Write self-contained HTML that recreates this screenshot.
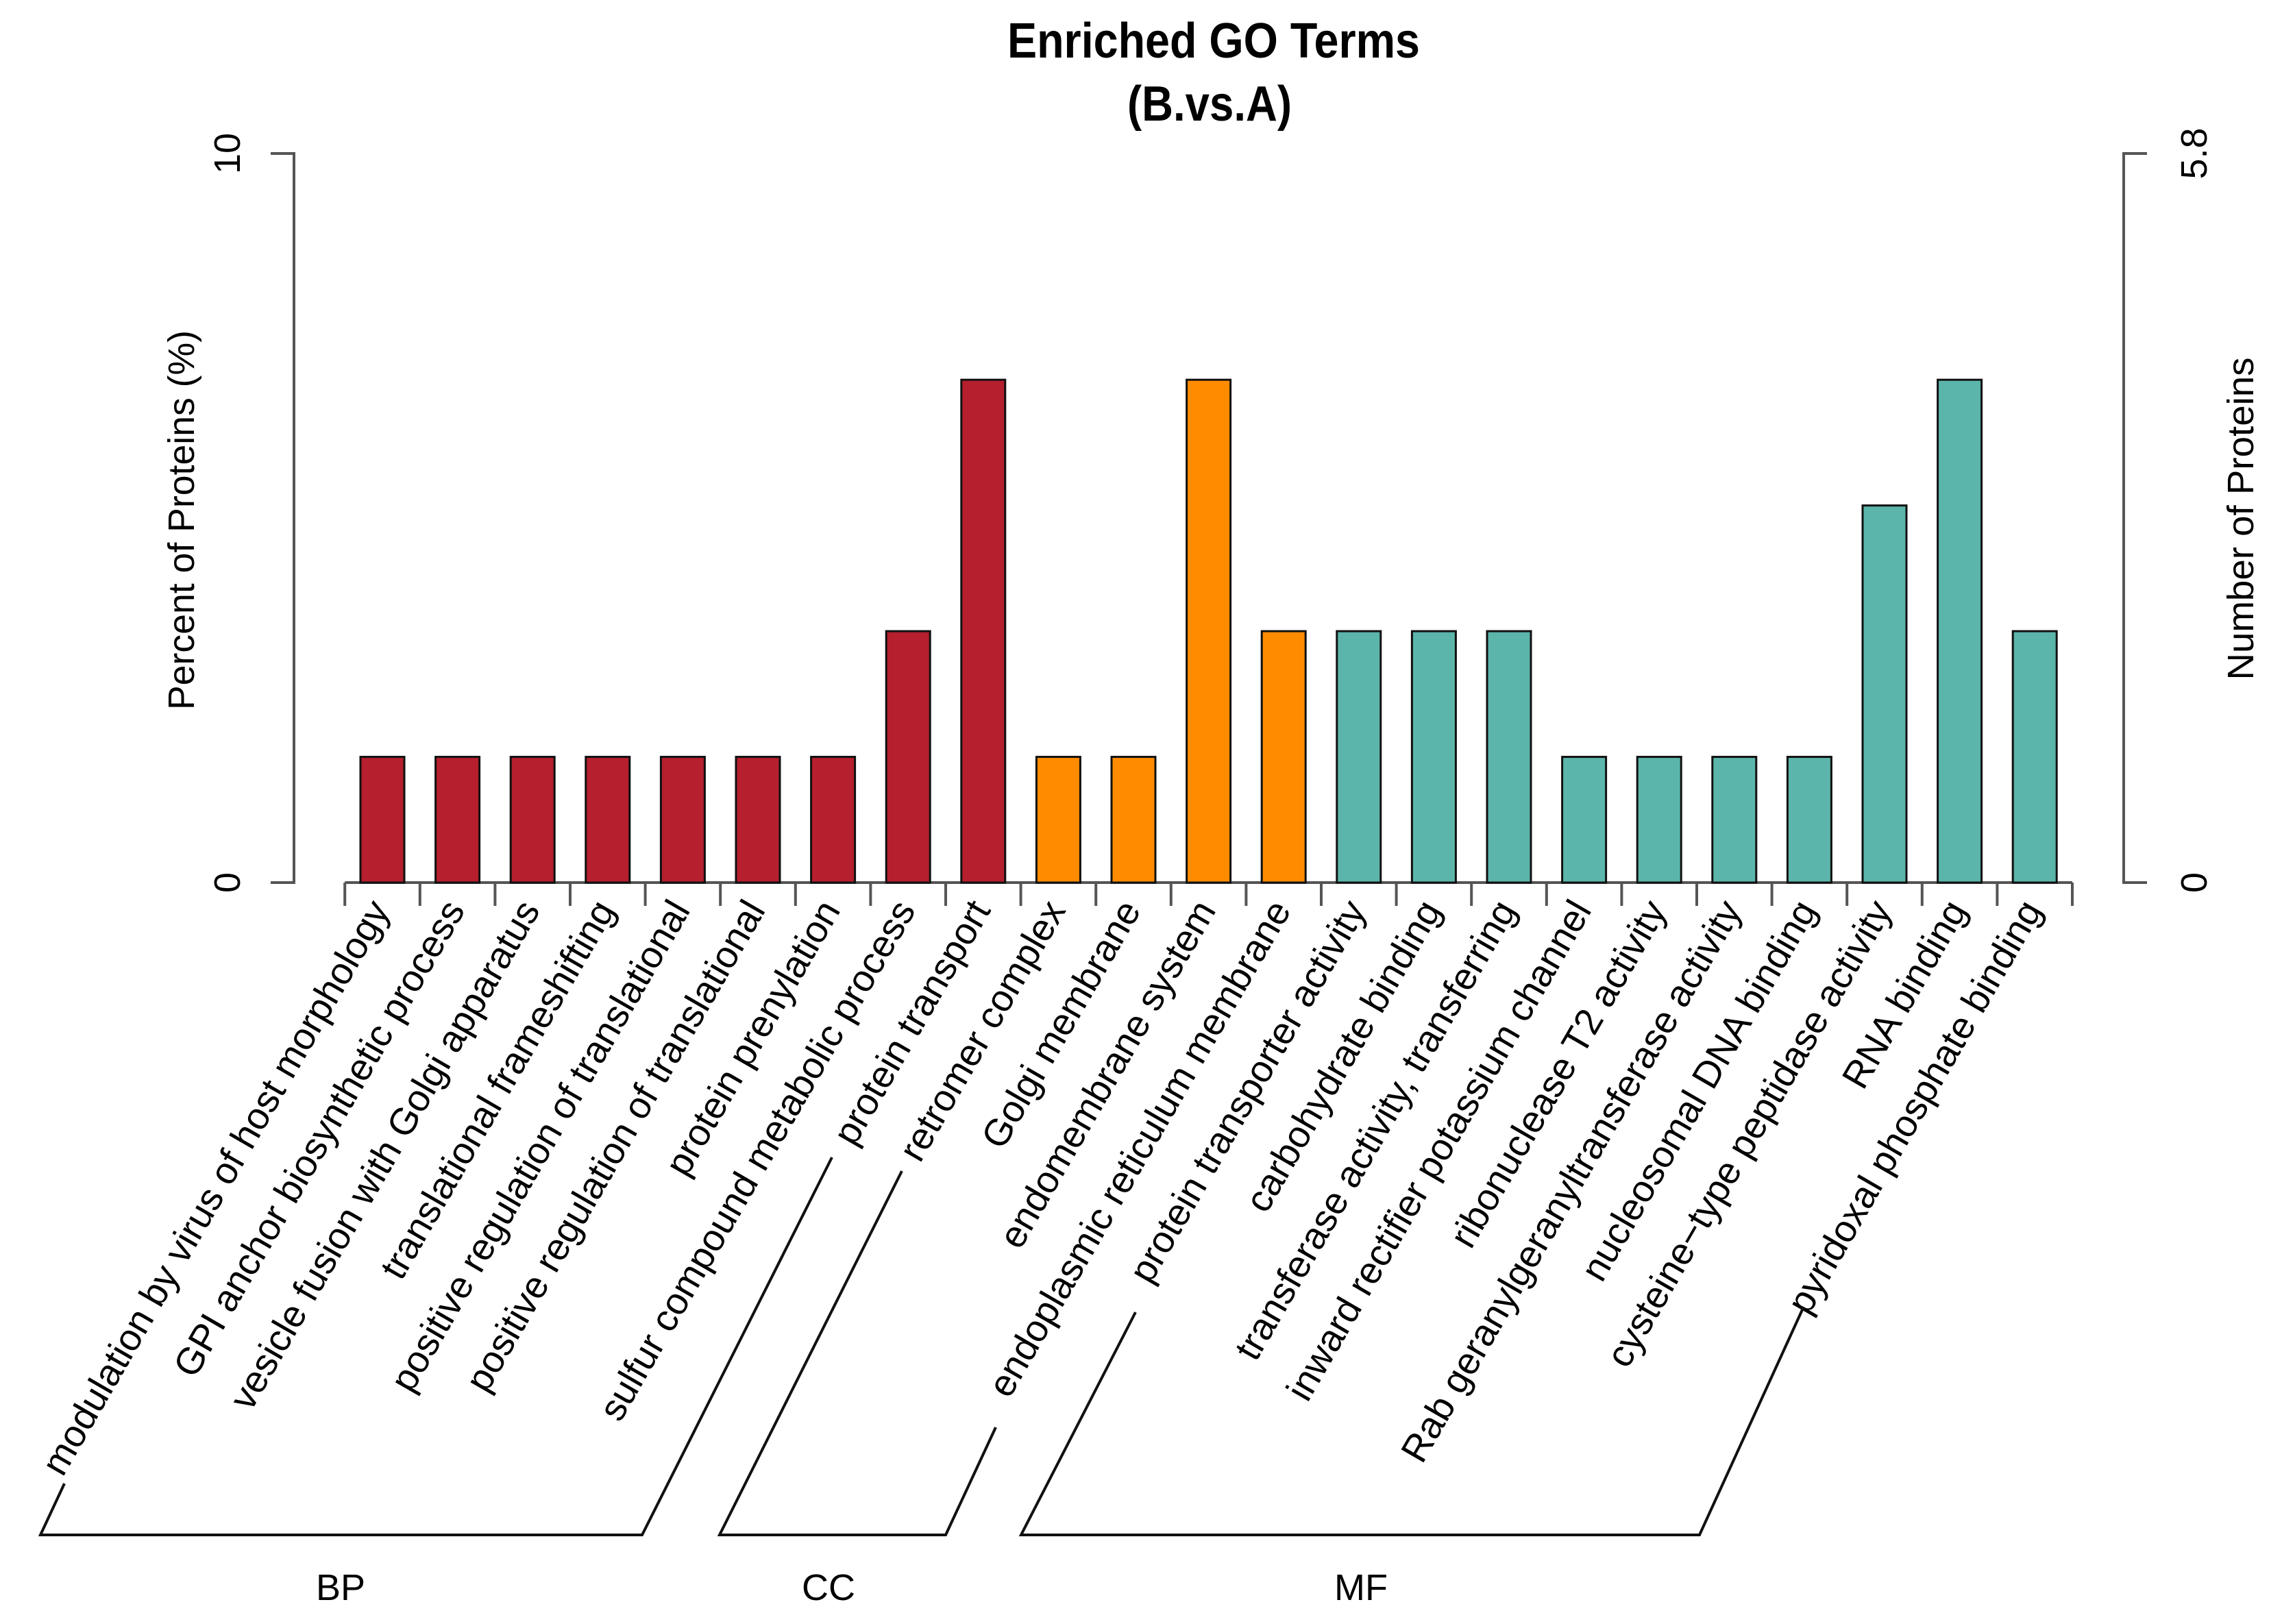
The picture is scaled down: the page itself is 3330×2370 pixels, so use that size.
<!DOCTYPE html>
<html><head><meta charset="utf-8"><style>
html,body{margin:0;padding:0;background:#fff;}
svg{display:block;font-family:"Liberation Sans",Arial,sans-serif;}
</style></head><body>
<svg id="chart" width="3330" height="2370" viewBox="0 0 3330 2370" xmlns="http://www.w3.org/2000/svg">
<text x="1771" y="84" font-size="72" font-weight="bold" text-anchor="middle" textLength="602" lengthAdjust="spacingAndGlyphs">Enriched GO Terms</text>
<text x="1765" y="176" font-size="72" font-weight="bold" text-anchor="middle" textLength="240" lengthAdjust="spacingAndGlyphs">(B.vs.A)</text>
<g id="axes"></g>
<g id="bars"></g>
<g id="labels"></g>
<g id="groups"></g>
</svg>
<script>
const categories = ["modulation by virus of host morphology","GPI anchor biosynthetic process","vesicle fusion with Golgi apparatus","translational frameshifting","positive regulation of translational","positive regulation of translational","protein prenylation","sulfur compound metabolic process","protein transport","retromer complex","Golgi membrane","endomembrane system","endoplasmic reticulum membrane","protein transporter activity","carbohydrate binding","transferase activity, transferring","inward rectifier potassium channel","ribonuclease T2 activity","Rab geranylgeranyltransferase activity","nucleosomal DNA binding","cysteine\u2212type peptidase activity","RNA binding","pyridoxal phosphate binding"];
const counts = [1,1,1,1,1,1,1,2,4,1,1,4,2,2,2,2,1,1,1,1,3,4,2];
const groupsOf = ["BP","BP","BP","BP","BP","BP","BP","BP","BP","CC","CC","CC","CC","MF","MF","MF","MF","MF","MF","MF","MF","MF","MF"];
const groupNames = ["BP","CC","MF"];
const leftTicks = ["0","10"];
const rightTicks = ["0","5.8"];
const totalProteins = 58;
const leftMax = 10;

const NS = "http://www.w3.org/2000/svg";
const colors = {BP:"#B51F2E", CC:"#FF8B00", MF:"#5BB5AA"};
const y0 = 1288, yTop = 224;
const firstCenter = 558, pitch = 109.6, barW = 64;
function xPos(i){ return firstCenter + i*pitch; }
function yPos(pct){ return y0 - (y0 - yTop) * pct / leftMax; }
function mk(tag, attrs, parent){ const e=document.createElementNS(NS,tag); for(const k in attrs) e.setAttribute(k,attrs[k]); parent.appendChild(e); return e; }

const axes = document.getElementById('axes');
const bars = document.getElementById('bars');
const labels = document.getElementById('labels');
const groups = document.getElementById('groups');

let la = mk('path',{d:`M395 ${yTop} H429 V${y0} H395`,fill:'none',stroke:'#555','stroke-width':4},axes);


leftTicks.forEach((t,k)=>{
  const v = k===0?0:leftMax;
  const yy = yPos(v);
  const tx = mk('text',{x:350,y:yy,'font-size':54,'text-anchor':'middle',transform:`rotate(-90 350 ${yy})`},axes);
  tx.textContent = t;
  
  
});
let lt = mk('text',{x:283,y:759,'font-size':54,'text-anchor':'middle',transform:'rotate(-90 283 759)',textLength:554,lengthAdjust:'spacingAndGlyphs'},axes);
lt.textContent = 'Percent of Proteins (%)';



let ra = mk('path',{d:`M3133 ${yTop} H3099 V${y0} H3133`,fill:'none',stroke:'#555','stroke-width':4},axes);


rightTicks.forEach((t,k)=>{
  const yy = k===0?y0:yTop;
  const tx = mk('text',{x:3220,y:yy,'font-size':54,'text-anchor':'middle',transform:`rotate(-90 3220 ${yy})`},axes);
  tx.textContent = t;
  
  
});
let rt = mk('text',{x:3288,y:757,'font-size':54,'text-anchor':'middle',transform:'rotate(-90 3288 757)',textLength:471,lengthAdjust:'spacingAndGlyphs'},axes);
rt.textContent = 'Number of Proteins';



const n = categories.length;
const xl = xPos(0)-pitch/2, xr = xPos(n-1)+pitch/2;
let xa = mk('line',{x1:xl,y1:y0,x2:xr,y2:y0,stroke:'#555','stroke-width':4},axes);


for(let i=0;i<=n;i++){
  const tx = xl + i*pitch;
  const tk = mk('line',{x1:tx,y1:y0,x2:tx,y2:y0+34,stroke:'#555','stroke-width':4},axes);
  
  
}

categories.forEach((c,i)=>{
  const pct = counts[i]/totalProteins*100;
  const yy = yPos(pct);
  const r = mk('rect',{x:xPos(i)-barW/2,y:yy,width:barW,height:y0-yy,fill:colors[groupsOf[i]],stroke:'#111','stroke-width':3},bars);
  
  
  const lx = xPos(i)+12, ly = 1328;
  const t = mk('text',{x:lx,y:ly,'font-size':55,'text-anchor':'end',transform:`rotate(-60 ${lx} ${ly})`},labels);
  t.textContent = c;
  
  
});

const brackets = {
  BP:{d:'M94 2165 L59 2240 H937 L1214 1689', lx:497},
  CC:{d:'M1316 1709 L1050 2240 H1380 L1453 2083', lx:1209},
  MF:{d:'M1657 1915 L1490 2240 H2480 L2632 1907', lx:1986}
};
groupNames.forEach(g=>{
  const p = mk('path',{d:brackets[g].d,fill:'none',stroke:'#111','stroke-width':4},groups);
  
  
  const t = mk('text',{x:brackets[g].lx,y:2335,'font-size':54,'text-anchor':'middle'},groups);
  t.textContent = g;
  
  
});
</script>
</body></html>
